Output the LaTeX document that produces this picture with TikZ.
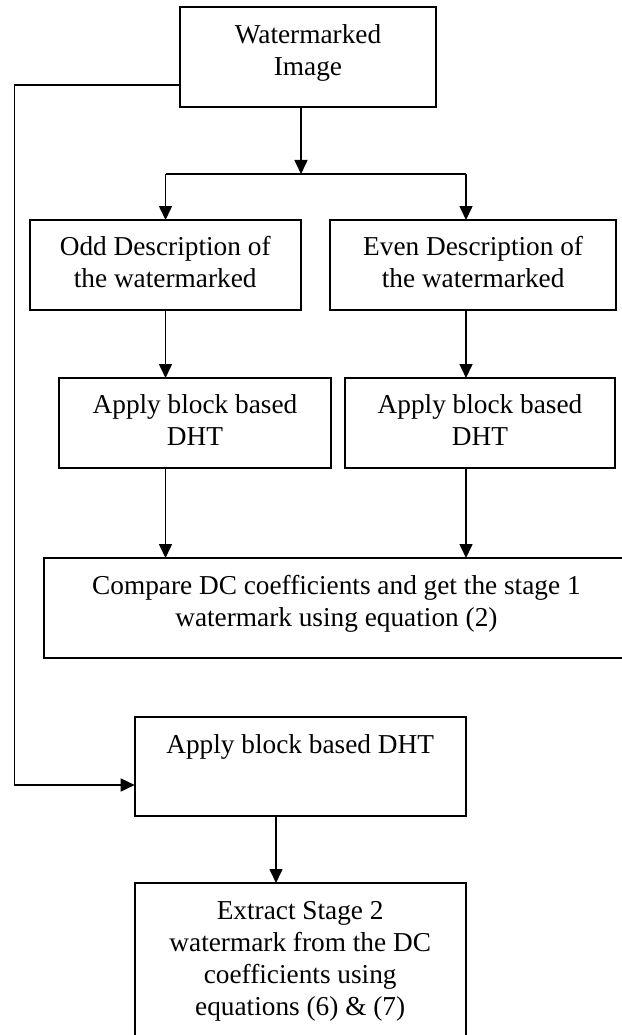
\documentclass[tikz,border=0pt]{standalone}
\usepackage{fontspec}
\setmainfont{Liberation Serif}
\usetikzlibrary{arrows.meta}
% fixed-size box content: width, height, top padding, lines
\newcommand\boxtext[4]{\parbox[c][#2][t]{#1}{\centering\vspace*{#3}#4\par}}
\begin{document}
\begin{tikzpicture}[x=1pt,y=-1pt,
  box/.style={draw, line width=2pt, inner sep=0pt, outer sep=0pt,
    anchor=north west, font=\fontsize{27.3}{32}\selectfont},
  flow/.style={line width=1.6pt, line join=miter,
    -{Triangle[length=14pt,width=13pt]}},
  link/.style={line width=1.6pt}]
\useasboundingbox (0,0) rectangle (621,1035);

% process boxes
\node[box] (wm)   at (180,7)     {\boxtext{256pt}{100pt}{17.4pt}{Watermarked\\Image}};
\node[box] (odd)  at (29.7,220)  {\boxtext{271pt}{90pt}{16.4pt}{Odd Description of\\the watermarked}};
\node[box] (even) at (330.3,220) {\boxtext{285.7pt}{90pt}{16.4pt}{Even Description of\\the watermarked}};
\node[box] (dhtL) at (59.3,378)  {\boxtext{271.4pt}{90pt}{16.1pt}{Apply block based\\DHT}};
\node[box] (dhtR) at (345,378)   {\boxtext{270pt}{90pt}{16.1pt}{Apply block based\\DHT}};
\node[box] (cmp)  at (44.3,558)  {\boxtext{584.2pt}{100pt}{17.4pt}{Compare DC coefficients and get the stage 1\\watermark using equation (2)}};
\node[box] (dht)  at (134.7,717) {\boxtext{331pt}{99pt}{17.1pt}{Apply block based DHT}};
\node[box] (ext)  at (134.7,883) {\boxtext{331pt}{170pt}{18.4pt}{Extract Stage 2\\watermark from the DC\\coefficients using\\equations (6) \& (7)}};

% routing points
\coordinate (fork)  at (301,174);
\coordinate (forkL) at (165.5,174);
\coordinate (forkR) at (466,174);
\coordinate (tap)   at (0,85);
\coordinate (entry) at (0,785);
\coordinate (rail)  at (14.3,0);
\coordinate (drop)  at (276,0);

% split into odd and even descriptions
\draw[flow] (wm.south -| fork) -- (fork);
\draw[link] (forkL) -- (forkR);
\draw[flow] (forkL) -- (odd.north -| forkL);
\draw[flow] (forkR) -- (even.north -| forkR);

% two parallel DHT branches
\draw[flow] (odd.south -| forkL)  -- (dhtL.north -| forkL);
\draw[flow] (even.south -| forkR) -- (dhtR.north -| forkR);
\draw[flow] (dhtL.south -| forkL) -- (cmp.north -| forkL);
\draw[flow] (dhtR.south -| forkR) -- (cmp.north -| forkR);

% direct path to the second stage
\draw[flow] (wm.west |- tap) -- (rail |- tap) -- (rail |- entry) -- (dht.west |- entry);
\draw[flow] (dht.south -| drop) -- (ext.north -| drop);
\end{tikzpicture}
\end{document}
